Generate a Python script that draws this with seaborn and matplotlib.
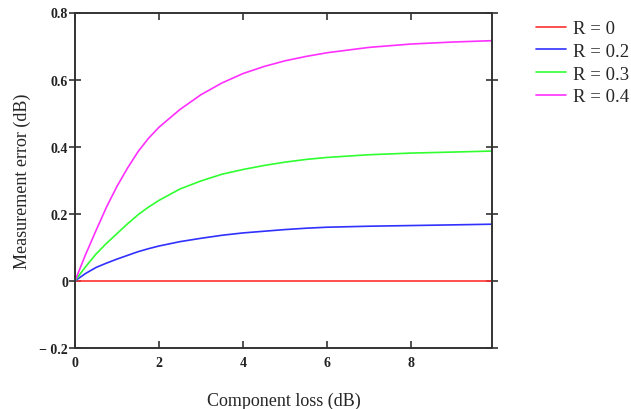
import pandas as pd
import matplotlib
matplotlib.use('Agg')
import matplotlib.pyplot as plt
import seaborn as sns

# component loss (dB) sample points
loss = [0, 0.25, 0.5, 0.75, 1, 1.25, 1.5, 1.75, 2, 2.5, 3, 3.5, 4, 4.5, 5, 5.5, 6, 7, 8, 9, 9.93]

err_r0 = [0] * len(loss)
err_r02 = [0, 0.022, 0.040, 0.053, 0.065, 0.076, 0.087, 0.096, 0.104, 0.117, 0.127, 0.136,
           0.143, 0.148, 0.153, 0.157, 0.160, 0.163, 0.165, 0.167, 0.169]
err_r03 = [0, 0.042, 0.080, 0.112, 0.141, 0.170, 0.197, 0.220, 0.240, 0.274, 0.298, 0.318,
           0.332, 0.344, 0.354, 0.362, 0.368, 0.376, 0.381, 0.384, 0.387]
err_r04 = [0, 0.078, 0.150, 0.220, 0.282, 0.336, 0.385, 0.425, 0.458, 0.511, 0.555, 0.590,
           0.618, 0.639, 0.656, 0.669, 0.680, 0.696, 0.706, 0.712, 0.716]

labels = ['R = 0', 'R = 0.2', 'R = 0.3', 'R = 0.4']
colors = ['#ff3030', '#3030ff', '#30ff30', '#ff30ff']

frames = []
for lab, vals in zip(labels, [err_r0, err_r02, err_r03, err_r04]):
    frames.append(pd.DataFrame({'loss': loss, 'err': vals, 'R': lab}))
df = pd.concat(frames, ignore_index=True)

sns.set_style('ticks')
plt.rcParams['font.family'] = ['Liberation Serif', 'DejaVu Serif']

fig = plt.figure(figsize=(6.31, 4.10), dpi=100)
ax = fig.add_axes([75/631, 1 - 349/410, (492 - 75)/631, (349 - 13.5)/410])

sns.lineplot(data=df, x='loss', y='err', hue='R', palette=colors,
             linewidth=1.2, ax=ax)

ax.set_xlim(0, 9.93)
ax.set_ylim(-0.2, 0.8)
ax.set_xticks([0, 2, 4, 6, 8])
ax.set_yticks([-0.2, 0, 0.2, 0.4, 0.6, 0.8])
ax.set_xticklabels(['0', '2', '4', '6', '8'])
ax.set_yticklabels(['\u2212 0.2', '0', '0.2', '0.4', '0.6', '0.8'])

for s in ax.spines.values():
    s.set_color('#333333')
    s.set_linewidth(1.4)

ax.tick_params(axis='both', direction='in', length=5, width=1.2, color='#333333',
               labelsize=10, top=True, right=True)
ax.tick_params(axis='x', pad=6)
ax.tick_params(axis='y', direction='inout', length=8, pad=1)
for t in ax.get_xticklabels() + ax.get_yticklabels():
    t.set_fontweight('bold')
    t.set_color('#222222')

ax.set_xlabel('Component loss (dB)', fontsize=13, labelpad=16)
ax.set_ylabel('Measurement error (dB)', fontsize=13, labelpad=6)

handles, labs = ax.get_legend_handles_labels()
ax.get_legend().remove()
fig.legend(handles, labs, loc='upper left', bbox_to_anchor=(536/631, 1 - 21/410),
           frameon=False, fontsize=13.5, handlelength=1.6, handletextpad=0.35,
           labelspacing=0.3, borderpad=0, borderaxespad=0)

fig.savefig('out.png', dpi=100)
